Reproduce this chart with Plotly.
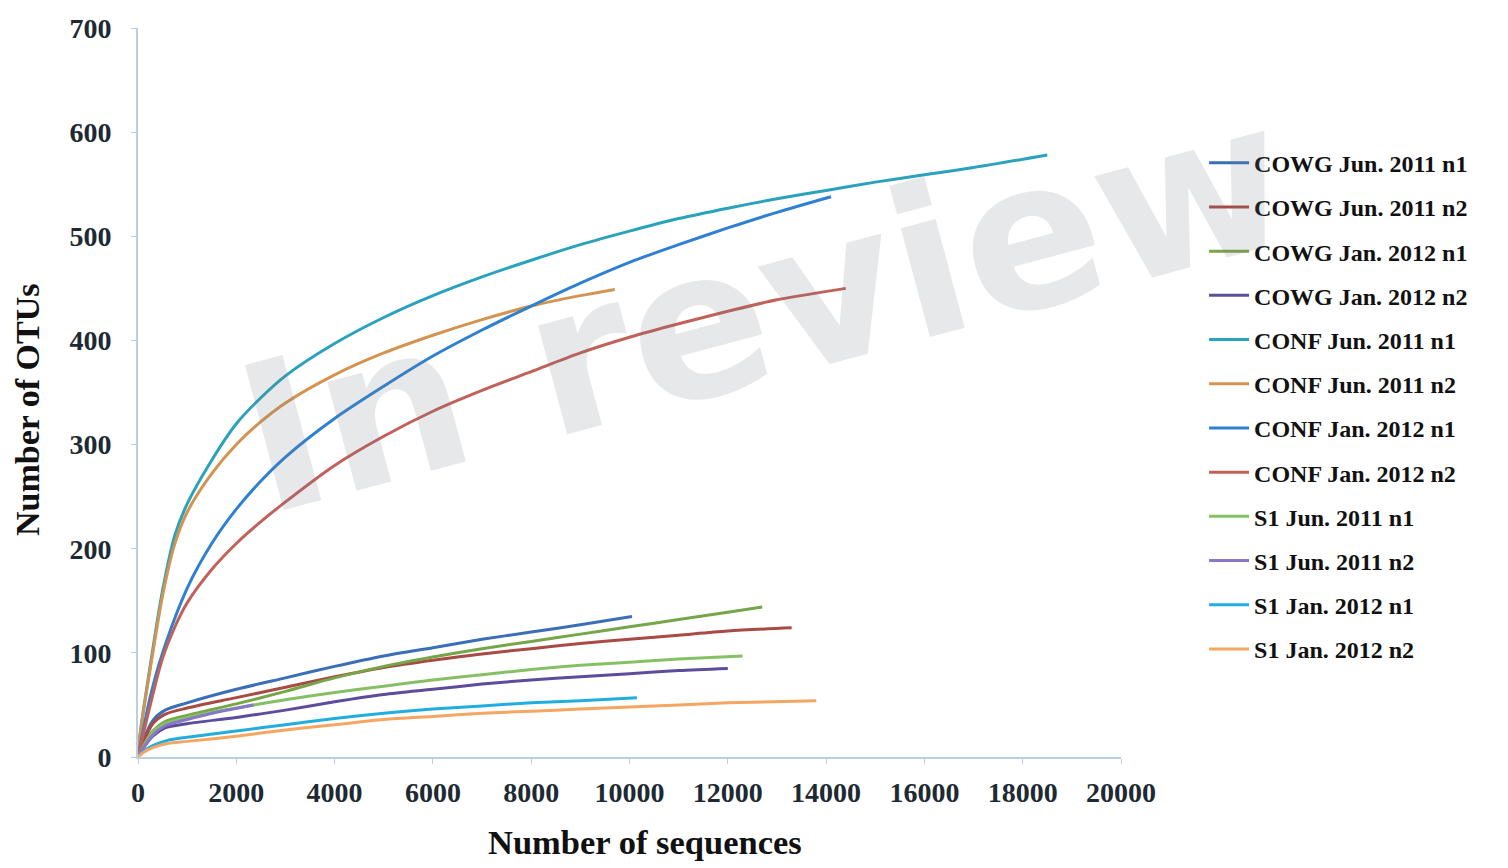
import plotly.graph_objects as go

# ---- data ----
series_names = [
    "COWG Jun. 2011 n1", "COWG Jun. 2011 n2", "COWG Jan. 2012 n1", "COWG Jan. 2012 n2",
    "CONF Jun. 2011 n1", "CONF Jun. 2011 n2", "CONF Jan. 2012 n1", "CONF Jan. 2012 n2",
    "S1 Jun. 2011 n1", "S1 Jun. 2011 n2", "S1 Jan. 2012 n1", "S1 Jan. 2012 n2",
]

cowg_jun_n1_x = [0, 100, 300, 550, 1000, 2000, 3000, 4000, 5000, 6000, 7000, 8000, 9000, 10050]
cowg_jun_n1_y = [0, 15, 35, 45, 52, 65, 76, 87, 97, 105, 113, 120, 127, 135]

cowg_jun_n2_x = [0, 100, 300, 550, 1000, 2000, 3000, 4000, 5000, 6000, 7000, 8000, 9000, 10000, 11000, 12000, 13300]
cowg_jun_n2_y = [0, 13, 32, 41, 47, 57, 67, 77, 86, 93, 99, 104, 109, 113, 117, 121, 124]

cowg_jan_n1_x = [0, 100, 300, 550, 1000, 2000, 3000, 4000, 5000, 6000, 7000, 8000, 9000, 10000, 11000, 12000, 12700]
cowg_jan_n1_y = [0, 10, 25, 34, 40, 51, 63, 76, 87, 96, 104, 111, 118, 125, 132, 139, 144]

cowg_jan_n2_x = [0, 100, 300, 550, 1000, 2000, 3000, 4000, 5000, 6000, 7000, 8000, 9000, 10000, 11000, 12000]
cowg_jan_n2_y = [0, 8, 20, 28, 32, 38, 45, 53, 60, 65, 70, 74, 77, 80, 83, 85]

conf_jun_n1_x = [0, 50, 250, 500, 750, 1000, 1500, 2000, 2500, 3000, 4000, 5000, 6000, 7000, 8000,
                 9000, 10000, 11000, 12000, 13000, 14000, 15000, 16000, 17000, 18500]
conf_jun_n1_y = [0, 25, 88, 160, 213, 243, 285, 320, 345, 366, 397, 422, 443, 461, 477,
                 492, 505, 517, 527, 536, 544, 552, 559, 566, 578]

conf_jun_n2_x = [0, 50, 250, 500, 750, 1000, 1500, 2000, 2500, 3000, 4000, 5000, 6000, 7000, 8000, 9000, 9700]
conf_jun_n2_y = [0, 24, 85, 155, 205, 235, 272, 300, 322, 340, 367, 388, 405, 420, 433, 443, 449]

conf_jan_n1_x = [0, 250, 500, 1000, 1500, 2000, 2500, 3000, 4000, 5000, 6000, 7000, 8000, 9000,
                 10000, 11000, 12000, 13000, 14100]
conf_jan_n1_y = [0, 58, 100, 162, 205, 238, 265, 288, 325, 356, 385, 410, 433, 455,
                 475, 492, 508, 523, 538]

conf_jan_n2_x = [0, 250, 500, 750, 1000, 1500, 2000, 2500, 3000, 4000, 5000, 6000, 7000, 8000,
                 9000, 10000, 11000, 12000, 13000, 14400]
conf_jan_n2_y = [0, 50, 95, 125, 148, 180, 205, 226, 245, 280, 308, 332, 352, 370,
                 388, 403, 416, 428, 439, 450]

s1_jun_n1_x = [0, 100, 300, 550, 1000, 2000, 3000, 4000, 5000, 6000, 7000, 8000, 9000, 10000, 11000, 12300]
s1_jun_n1_y = [0, 9, 24, 32, 38, 47, 55, 62, 68, 74, 79, 84, 88, 91, 94, 97]

s1_jun_n2_x = [0, 100, 300, 550, 1000, 1600, 2350]
s1_jun_n2_y = [0, 8, 21, 30, 36, 43, 50]

s1_jan_n1_x = [0, 100, 300, 600, 1000, 2000, 3000, 4000, 5000, 6000, 7000, 8000, 9000, 10150]
s1_jan_n1_y = [0, 5, 11, 16, 19, 25, 31, 37, 42, 46, 49, 52, 54, 57]

s1_jan_n2_x = [0, 100, 300, 600, 1000, 2000, 3000, 4000, 5000, 6000, 7000, 8000, 9000, 10000, 11000, 12000, 13800]
s1_jan_n2_y = [0, 4, 9, 13, 15, 20, 26, 31, 36, 39, 42, 44, 46, 48, 50, 52, 54]

xs = [cowg_jun_n1_x, cowg_jun_n2_x, cowg_jan_n1_x, cowg_jan_n2_x,
      conf_jun_n1_x, conf_jun_n2_x, conf_jan_n1_x, conf_jan_n2_x,
      s1_jun_n1_x, s1_jun_n2_x, s1_jan_n1_x, s1_jan_n2_x]
ys = [cowg_jun_n1_y, cowg_jun_n2_y, cowg_jan_n1_y, cowg_jan_n2_y,
      conf_jun_n1_y, conf_jun_n2_y, conf_jan_n1_y, conf_jan_n2_y,
      s1_jun_n1_y, s1_jun_n2_y, s1_jan_n1_y, s1_jan_n2_y]

colors = ["#3a6fb8", "#a94a44", "#76a64a", "#5d4c9c",
          "#2aa2bb", "#d39452", "#2f80d0", "#c2615a",
          "#86c065", "#8c76c8", "#22ade0", "#f4a662"]

x_ticks = list(range(0, 20001, 2000))
x_tick_text = [str(v) for v in x_ticks]
y_ticks = list(range(0, 701, 100))
y_tick_text = [str(v) for v in y_ticks]

# ---- figure ----
fig = go.Figure()
for name, x, y, c in zip(series_names, xs, ys, colors):
    fig.add_trace(go.Scatter(
        x=x, y=y, mode="lines", name=name, legendgroup=name,
        line=dict(color=c, width=3, shape="spline", smoothing=0.8),
    ))

axis_col = "#b9d0e2"
serif = "Liberation Serif"

fig.update_layout(
    width=1492, height=860,
    paper_bgcolor="white", plot_bgcolor="white",
    margin=dict(l=130, r=379, t=20, b=111, autoexpand=False),
    showlegend=True,
    legend=dict(
        x=1.0845, xanchor="left", y=0.8455, yanchor="top",
        font=dict(family=serif, size=24, color="#111111", weight="bold"),
        tracegroupgap=10, itemwidth=40, bgcolor="rgba(0,0,0,0)",
    ),
    xaxis=dict(
        range=[0, 20000], tickvals=x_ticks, ticktext=x_tick_text,
        showgrid=False, zeroline=False,
        showline=True, linecolor=axis_col, linewidth=2,
        ticks="outside", ticklen=5, tickcolor=axis_col,
        tickfont=dict(family=serif, size=28, color="#1e2a33", weight="bold"),
        ticklabelstandoff=4,
    ),
    yaxis=dict(
        range=[0, 700], tickvals=y_ticks, ticktext=y_tick_text,
        showgrid=False, zeroline=False,
        showline=True, linecolor=axis_col, linewidth=2,
        ticks="outside", ticklen=5, tickcolor=axis_col,
        tickfont=dict(family=serif, size=28, color="#1e2a33", weight="bold"),
        ticklabelstandoff=14,
    ),
    annotations=[
        dict(text="Number of sequences", xref="paper", yref="paper",
             x=(645 - 138) / 983, y=-(842 - 757) / 729, xanchor="center", yanchor="middle",
             showarrow=False, font=dict(family=serif, size=34.5, color="#111111", weight="bold")),
        dict(text="Number of OTUs", xref="paper", yref="paper",
             x=-(138 - 27) / 983, y=(757 - 410) / 729, xanchor="center", yanchor="middle",
             textangle=-90, showarrow=False,
             font=dict(family=serif, size=34, color="#111111", weight="bold")),
        dict(text="In review", xref="paper", yref="paper",
             x=(764 - 138) / 983, y=(757 - 308) / 729, xanchor="center", yanchor="middle",
             textangle=-15, showarrow=False,
             font=dict(family="DejaVu Sans", size=206, color="rgba(110,118,130,0.17)", weight="bold")),
    ],
)

fig.write_html("out.html")
